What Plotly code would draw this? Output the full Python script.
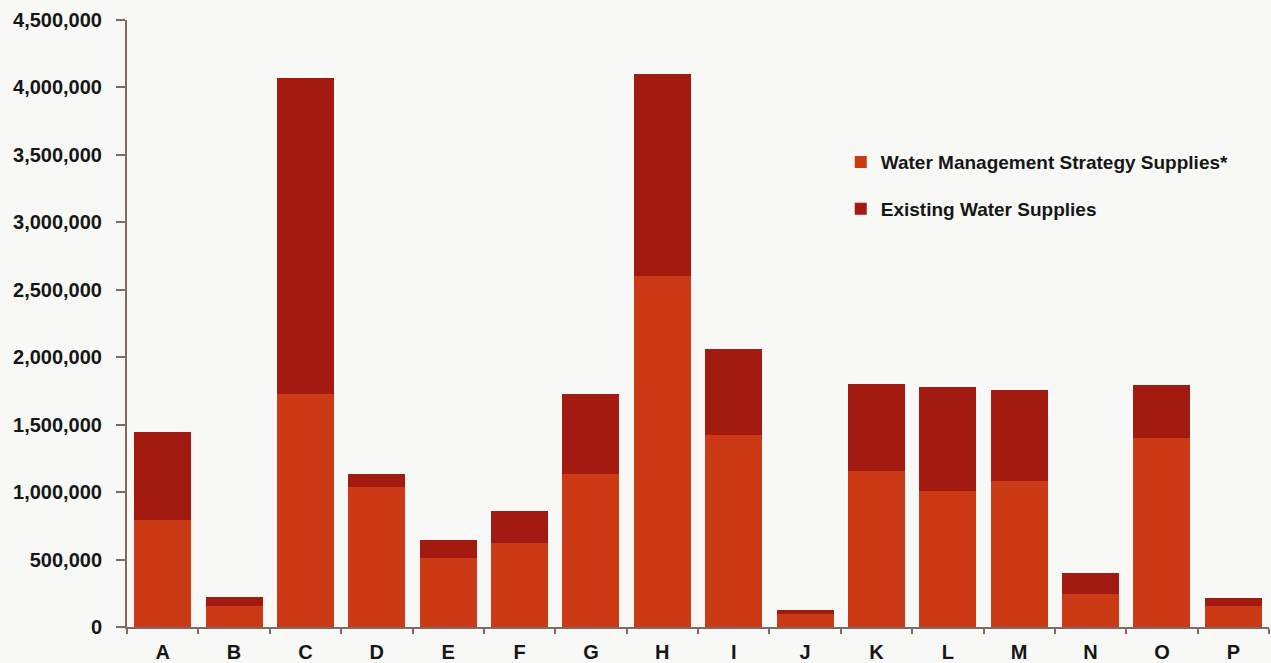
import plotly.graph_objects as go

regions = ["A", "B", "C", "D", "E", "F", "G", "H", "I", "J", "K", "L", "M", "N", "O", "P"]

# Supply volumes by planning region (acre-feet per year)
strategy_supplies = [795000, 155000, 1730000, 1040000, 510000, 625000, 1135000, 2600000,
                     1425000, 95000, 1155000, 1010000, 1080000, 245000, 1400000, 155000]
existing_supplies = [650000, 67000, 2340000, 95000, 135000, 235000, 590000, 1500000,
                     635000, 30000, 650000, 768000, 675000, 155000, 395000, 60000]

y_ticks = [0, 500000, 1000000, 1500000, 2000000, 2500000, 3000000, 3500000, 4000000, 4500000]

font_family = "Liberation Sans, Arial, sans-serif"
axis_color = "#7d6a62"
text_color = "#161616"

fig = go.Figure()
fig.add_trace(go.Bar(
    x=regions, y=strategy_supplies,
    name="<b>Water Management Strategy Supplies*</b>",
    marker=dict(color="#cb3a14", line=dict(width=0)),
    legendgroup="strategy",
))
fig.add_trace(go.Bar(
    x=regions, y=existing_supplies,
    name="<b>Existing Water Supplies</b>",
    marker=dict(color="#a31a10", line=dict(width=0)),
    legendgroup="existing",
))

fig.update_layout(
    barmode="stack",
    bargap=0.2,
    width=1271, height=663,
    margin=dict(l=127, r=2, t=20, b=36),
    paper_bgcolor="#f8f9f7",
    plot_bgcolor="#f8f9f7",
    font=dict(family=font_family, color=text_color),
    legend=dict(
        x=0.625, y=0.797, xanchor="left", yanchor="top",
        traceorder="grouped", tracegroupgap=19,
        font=dict(size=19, family=font_family, color=text_color),
        bgcolor="rgba(0,0,0,0)",
    ),
    xaxis=dict(
        type="category",
        automargin=False,
        showline=True, linecolor=axis_color, linewidth=2,
        ticks="outside", tickson="boundaries", ticklen=5, tickcolor=axis_color, tickwidth=2,
        tickfont=dict(size=20, family=font_family, color=text_color),
        tickprefix="<b>", ticksuffix="</b>",
        ticklabelstandoff=6,
        showgrid=False,
    ),
    yaxis=dict(
        range=[0, 4500000],
        automargin=False,
        tickvals=y_ticks,
        ticktext=[f"<b>{v:,}</b>" for v in y_ticks],
        showline=True, linecolor=axis_color, linewidth=2,
        ticks="outside", ticklen=9, tickcolor=axis_color, tickwidth=2,
        tickfont=dict(size=20, family=font_family, color=text_color),
        ticklabelstandoff=10,
        showgrid=False, zeroline=False,
    ),
)

fig.write_html("out.html")
